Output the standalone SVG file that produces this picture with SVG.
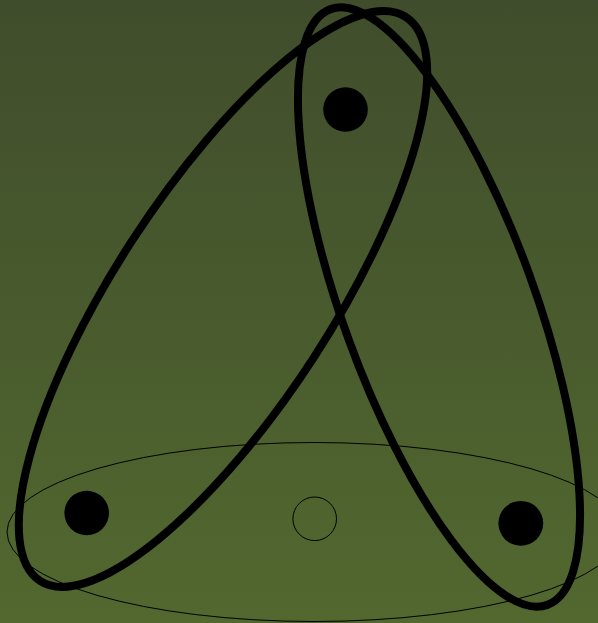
<svg xmlns="http://www.w3.org/2000/svg" width="598" height="623" viewBox="0 0 598 623">
  <defs>
    <linearGradient id="bg" x1="0" y1="0" x2="0" y2="1">
      <stop offset="0" stop-color="#404D2C"/>
      <stop offset="1" stop-color="#52682F"/>
    </linearGradient>
  </defs>
  <style>
    .edge { fill: none; stroke: #000; stroke-width: 8; }
    .thin { fill: none; stroke: #000; stroke-width: 1; }
    .dot { fill: #000; }
    .empty { fill: none; stroke: #000; stroke-width: 1; }
  </style>
  <rect x="0" y="0" width="598" height="623" fill="url(#bg)"/>
  <g id="connectors">
    <ellipse class="thin" cx="314" cy="532" rx="307" ry="89.5"/>
    <ellipse class="edge" cx="0" cy="0" rx="336" ry="108" transform="translate(223 299) rotate(-57)"/>
    <ellipse class="edge" cx="0" cy="0" rx="317" ry="96" transform="translate(439 307) rotate(70)"/>
  </g>
  <g id="node-top"><circle class="dot" cx="345.5" cy="109.5" r="22.3"/></g>
  <g id="node-left"><circle class="dot" cx="86.7" cy="513" r="22.3"/></g>
  <g id="node-right"><circle class="dot" cx="520.8" cy="523.3" r="22.4"/></g>
  <g id="node-empty"><circle class="empty" cx="314.7" cy="518.8" r="21.8"/></g>
</svg>
